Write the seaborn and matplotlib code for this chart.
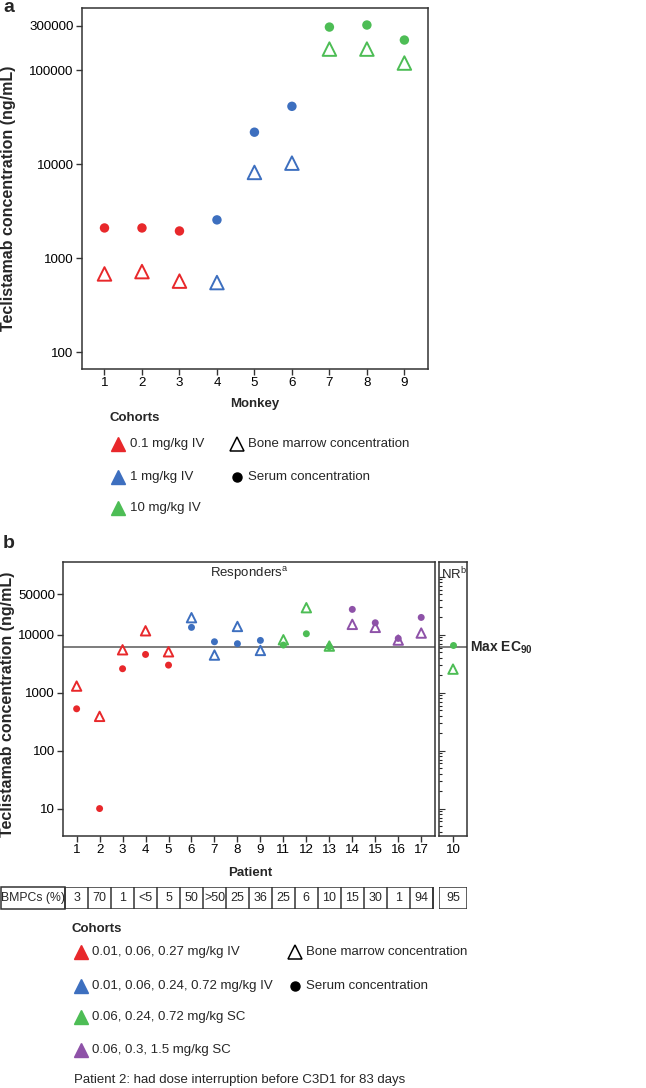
import matplotlib
matplotlib.use("Agg")
import numpy as np
import pandas as pd
import matplotlib.pyplot as plt
import seaborn as sns
from matplotlib.lines import Line2D
from matplotlib.patches import Rectangle
from matplotlib.ticker import FixedLocator, NullLocator, NullFormatter, LogLocator

sns.set_theme(style="ticks")
plt.rcParams['font.family'] = ['Liberation Sans', 'DejaVu Sans']
plt.rcParams['mathtext.fontset'] = 'custom'
plt.rcParams['mathtext.rm'] = 'Liberation Sans'
plt.rcParams['mathtext.bf'] = 'Liberation Sans:bold'

W, H = 646, 1088
FS = 9.5        # general text size
FS_TICK = 9.6
FS_YLAB = 11.5

# colours
RED = '#E8282B'
BLUE = '#3D6FBF'
GREEN = '#4DBD55'
PURPLE = '#8E52A8'
EDGE = '#333333'

# ---- panel a data (monkeys) ----
monkeys = [1, 2, 3, 4, 5, 6, 7, 8, 9]
monkey_cohort = ['0.1 mg/kg IV'] * 3 + ['1 mg/kg IV'] * 3 + ['10 mg/kg IV'] * 3
monkey_serum = [2100, 2100, 1950, 2560, 22000, 41500, 290000, 305000, 211000]
monkey_bm = [680, 720, 570, 550, 8200, 10300, 169000, 169000, 120000]
monkey_palette = {'0.1 mg/kg IV': RED, '1 mg/kg IV': BLUE, '10 mg/kg IV': GREEN}

# ---- panel b data (patients) ----
patients = ['1', '2', '3', '4', '5', '6', '7', '8', '9', '11', '12', '13', '14', '15', '16', '17']
patient_cohort = (['0.01, 0.06, 0.27 mg/kg IV'] * 5 + ['0.01, 0.06, 0.24, 0.72 mg/kg IV'] * 4
                  + ['0.06, 0.24, 0.72 mg/kg SC'] * 3 + ['0.06, 0.3, 1.5 mg/kg SC'] * 4)
patient_serum = [527, 10, 2590, 4570, 2990, 13400, 7570, 7000, 7980, 6640, 10400, 6210, 27400, 16100, 8640, 19900]
patient_bm = [1300, 390, 5500, 11700, 5080, 19700, 4460, 13900, 5360, 8200, 29300, 6370, 15100, 13400, 8090, 10700]
bmpc = ['3', '70', '1', '<5', '5', '50', '>50', '25', '36', '25', '6', '10', '15', '30', '1', '94']

nr_patients = ['10']
nr_cohort = ['0.06, 0.24, 0.72 mg/kg SC']
nr_serum = [6640]
nr_bm = [2550]
nr_bmpc = ['95']

max_ec90 = 6100
patient_palette = {'0.01, 0.06, 0.27 mg/kg IV': RED, '0.01, 0.06, 0.24, 0.72 mg/kg IV': BLUE,
                   '0.06, 0.24, 0.72 mg/kg SC': GREEN, '0.06, 0.3, 1.5 mg/kg SC': PURPLE}


def px_axes(fig, l, t, r, b):
    return fig.add_axes([l / W, 1 - b / H, (r - l) / W, (b - t) / H])


def fx(x):
    return x / W


def fy(y):
    return 1 - y / H


def style_axes(ax):
    for s in ax.spines.values():
        s.set_visible(True)
        s.set_color(EDGE)
        s.set_linewidth(1.1)
    ax.tick_params(colors=EDGE, labelcolor='black', labelsize=FS_TICK, width=1, length=4, pad=2)
    ax.set_xlabel('')
    ax.set_ylabel('')


def draw_points(ax, x, y, hue, palette, s_circle, s_tri):
    df_s = pd.DataFrame({'x': x, 'y': y[0], 'cohort': hue})
    df_b = pd.DataFrame({'x': x, 'y': y[1], 'cohort': hue})
    sns.scatterplot(data=df_s, x='x', y='y', hue='cohort', palette=palette, marker='o',
                    s=s_circle, linewidth=0, legend=False, ax=ax, zorder=3)
    sns.scatterplot(data=df_b, x='x', y='y', hue='cohort', palette=palette, marker='^',
                    s=s_tri, legend=False, ax=ax, zorder=4)
    # bone marrow triangles are open: move the hue colour to the edge
    tri = ax.collections[-1]
    fc = tri.get_facecolors()
    tri.set_edgecolors(fc)
    tri.set_facecolors('none')
    tri.set_linewidths(1.4)


def legend_marker(fig, x, y, color, filled=True, size=10):
    if filled:
        fig.add_artist(Line2D([fx(x)], [fy(y)], marker='^', ms=size, color=color, mec=color,
                              transform=fig.transFigure))
    else:
        fig.add_artist(Line2D([fx(x)], [fy(y)], marker='^', ms=size, color='none', mec='black',
                              mew=1.1, transform=fig.transFigure))


fig = plt.figure(figsize=(W / 100, H / 100), dpi=100)

# ================= panel a =================
ax_a = px_axes(fig, 82, 8, 428, 369)
draw_points(ax_a, monkeys, (monkey_serum, monkey_bm), monkey_cohort, monkey_palette, 46, 95)
ax_a.set_yscale('log')
ax_a.set_ylim(66, 463000)
ax_a.set_xlim(0.4, 9.63)
ax_a.set_xticks(monkeys)
ax_a.yaxis.set_major_locator(FixedLocator([100, 1000, 10000, 100000, 300000]))
ax_a.yaxis.set_minor_locator(NullLocator())
ax_a.set_yticklabels(['100', '1000', '10000', '100000', '300000'])
style_axes(ax_a)

fig.text(fx(3), fy(8), 'a', fontsize=14, fontweight='bold', va='center', ha='left')
fig.text(fx(9), fy(198), 'Teclistamab concentration (ng/mL)', rotation=90, fontsize=FS_YLAB,
         fontweight='bold', ha='center', va='center')
fig.text(fx(255), fy(404), 'Monkey', fontsize=FS, fontweight='bold', ha='center', va='center')

# legend a
fig.text(fx(110), fy(418), 'Cohorts', fontsize=FS, fontweight='bold', ha='left', va='center')
for yy, (name, col) in zip([444, 477, 508], monkey_palette.items()):
    legend_marker(fig, 118, yy, col)
    fig.text(fx(130), fy(yy), name, fontsize=FS, ha='left', va='center')
legend_marker(fig, 237, 444, 'black', filled=False)
fig.text(fx(248), fy(444), 'Bone marrow concentration', fontsize=FS, ha='left', va='center')
fig.add_artist(Line2D([fx(237)], [fy(477)], marker='o', ms=6.5, color='black', transform=fig.transFigure))
fig.text(fx(248), fy(477), 'Serum concentration', fontsize=FS, ha='left', va='center')

# ================= panel b =================
ax_b = px_axes(fig, 63.3, 562.3, 435, 835.7)
draw_points(ax_b, patients, (patient_serum, patient_bm), patient_cohort, patient_palette, 25, 46)
ax_b.set_yscale('log')
ax_b.set_ylim(3.4, 178000)
ax_b.set_xlim(-0.58, len(patients) - 0.4)
ax_b.yaxis.set_major_locator(FixedLocator([10, 100, 1000, 10000, 50000]))
ax_b.yaxis.set_minor_locator(NullLocator())
ax_b.set_yticklabels(['10', '100', '1000', '10000', '50000'])
ax_b.axhline(max_ec90, color='#666666', lw=1.2, zorder=1)
style_axes(ax_b)

ax_nr = px_axes(fig, 439.3, 562.3, 466.7, 835.7)
draw_points(ax_nr, nr_patients, (nr_serum, nr_bm), nr_cohort, patient_palette, 25, 46)
ax_nr.set_yscale('log')
ax_nr.set_ylim(3.4, 178000)
ax_nr.set_xlim(-0.6, 0.6)
ax_nr.yaxis.set_major_locator(LogLocator(base=10))
ax_nr.yaxis.set_minor_locator(LogLocator(base=10, subs=np.arange(2, 10)))
ax_nr.yaxis.set_major_formatter(NullFormatter())
ax_nr.yaxis.set_minor_formatter(NullFormatter())
ax_nr.axhline(max_ec90, color='#666666', lw=1.2, zorder=1)
style_axes(ax_nr)
ax_nr.tick_params(axis='y', which='both', direction='in', width=0.8)
ax_nr.tick_params(axis='y', which='major', length=4)
ax_nr.tick_params(axis='y', which='minor', length=2.5)

fig.text(fx(3), fy(543), 'b', fontsize=14, fontweight='bold', va='center', ha='left')
fig.text(fx(8), fy(704), 'Teclistamab concentration (ng/mL)', rotation=90, fontsize=FS_YLAB,
         fontweight='bold', ha='center', va='center')
fig.text(fx(250), fy(873), 'Patient', fontsize=FS, fontweight='bold', ha='center', va='center')
fig.text(fx(249), fy(574), r'Responders$^{\mathrm{a}}$', fontsize=FS, ha='center', va='center')
fig.text(fx(454), fy(574), r'NR$^{\mathrm{b}}$', fontsize=FS, ha='center', va='center')
fig.text(fx(470), fy(648), r'Max EC$_{\mathbf{90}}$', fontsize=10, fontweight='bold', ha='left', va='center')

# BMPC table
t_top, t_bot = 886.7, 909.3
ax_t = px_axes(fig, 63.3, t_top, 435, t_bot)
ax_t.set_xlim(ax_b.get_xlim())
ax_t.set_ylim(0, 1)
ax_t.axis('off')
n = len(patients)
ax_t.add_patch(Rectangle((-0.5, 0), n, 1, fill=False, ec=EDGE, lw=1.1))
for i in range(n):
    ax_t.axvline(i + 0.5, color=EDGE, lw=1.1)
    ax_t.text(i, 0.5, bmpc[i], ha='center', va='center', fontsize=9)
fig.add_artist(Rectangle((fx(0.5), fy(t_bot)), fx(64.6), (t_bot - t_top) / H, fill=False, ec=EDGE,
                         lw=1.1, transform=fig.transFigure))
fig.text(fx(33), fy((t_top + t_bot) / 2), 'BMPCs (%)', ha='center', va='center', fontsize=8.8)

ax_tn = px_axes(fig, 439.3, t_top, 466.7, t_bot)
ax_tn.set_xlim(-0.6, 0.6)
ax_tn.set_ylim(0, 1)
ax_tn.axis('off')
ax_tn.add_patch(Rectangle((0, 0), 1, 1, fill=False, ec=EDGE, lw=1.1, transform=ax_tn.transAxes))
ax_tn.text(0, 0.5, nr_bmpc[0], ha='center', va='center', fontsize=9)

# legend b
fig.text(fx(72), fy(929), 'Cohorts', fontsize=FS, fontweight='bold', ha='left', va='center')
for yy, (name, col) in zip([952, 986, 1017, 1050], patient_palette.items()):
    legend_marker(fig, 81, yy, col)
    fig.text(fx(92), fy(yy), name, fontsize=FS, ha='left', va='center')
legend_marker(fig, 295, 952, 'black', filled=False)
fig.text(fx(306), fy(952), 'Bone marrow concentration', fontsize=FS, ha='left', va='center')
fig.add_artist(Line2D([fx(295)], [fy(986)], marker='o', ms=6.5, color='black', transform=fig.transFigure))
fig.text(fx(306), fy(986), 'Serum concentration', fontsize=FS, ha='left', va='center')
fig.text(fx(74), fy(1080), 'Patient 2: had dose interruption before C3D1 for 83 days', fontsize=FS,
         ha='left', va='center')

fig.savefig('out.png', dpi=100)
